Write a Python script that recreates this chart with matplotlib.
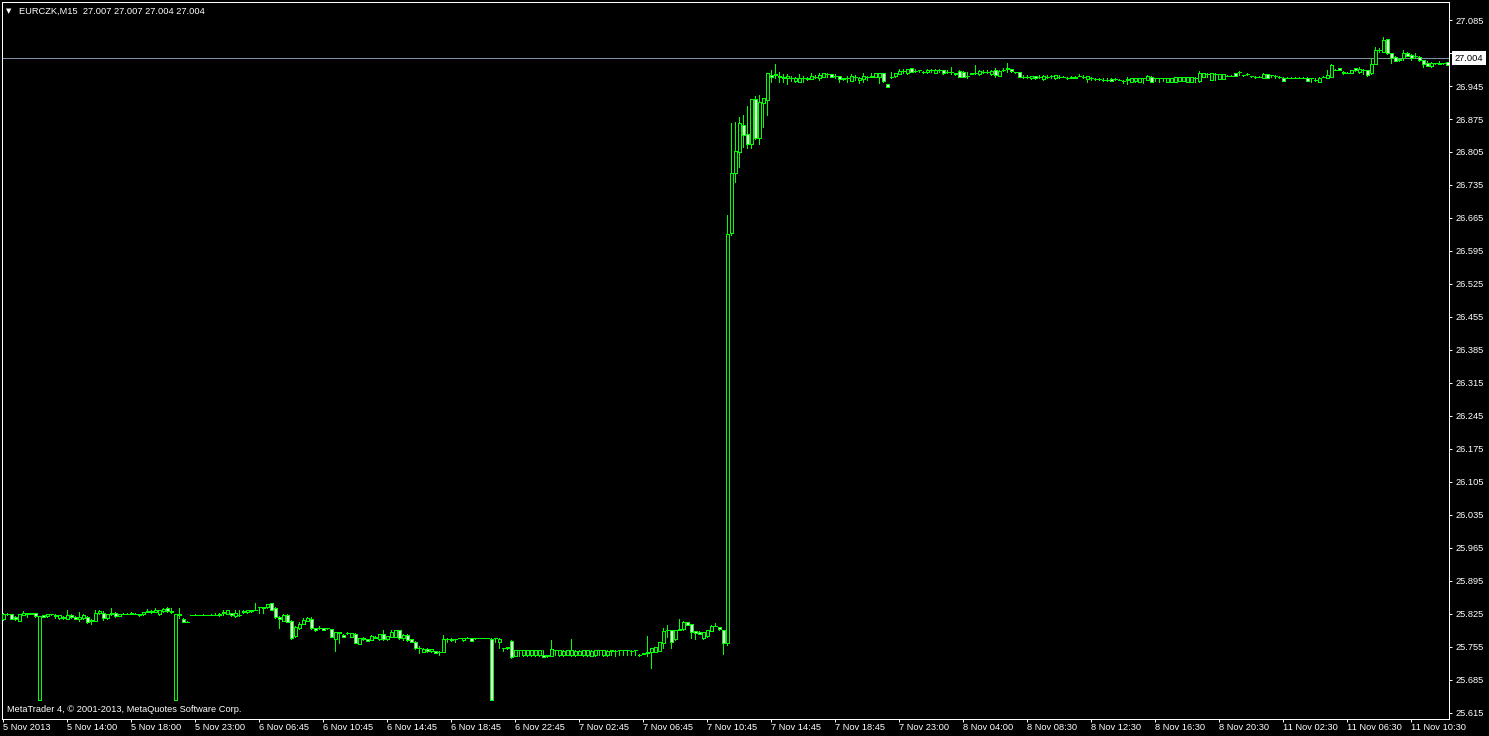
import matplotlib
matplotlib.use('Agg')
import matplotlib.pyplot as plt
import matplotlib.transforms as mtransforms
import numpy as np

plt.rcParams['font.family'] = ['Liberation Sans', 'DejaVu Sans']

# chart header / current quote
symbol = 'EURCZK,M15'
last_ohlc = ['27.007', '27.007', '27.004', '27.004']
bid = 27.004
copyright_txt = 'MetaTrader 4, \u00a9 2001-2013, MetaQuotes Software Corp.'

# time axis labels, one every 16 bars
time_labels = ['5 Nov 2013', '5 Nov 14:00', '5 Nov 18:00', '5 Nov 23:00', '6 Nov 06:45',
               '6 Nov 10:45', '6 Nov 14:45', '6 Nov 18:45', '6 Nov 22:45', '7 Nov 02:45',
               '7 Nov 06:45', '7 Nov 10:45', '7 Nov 14:45', '7 Nov 18:45', '7 Nov 23:00',
               '8 Nov 04:00', '8 Nov 08:30', '8 Nov 12:30', '8 Nov 16:30', '8 Nov 20:30',
               '11 Nov 02:30', '11 Nov 06:30', '11 Nov 10:30']

# M15 bars, prices in thousandths of CZK
opens = [
    25815, 25826, 25825, 25819, 25811, 25823, 25827, 25826, 25827, 25643,  # 0
    25822, 25820, 25824, 25823, 25816, 25819, 25815, 25823, 25819, 25815,
    25816, 25819, 25811, 25811, 25827, 25827, 25816, 25824, 25827, 25821,
    25825, 25826, 25826, 25826, 25825, 25824, 25830, 25832, 25830, 25826,
    25832, 25838, 25831, 25643, 25824, 25815, 25809, 25823, 25823, 25823,
    25823, 25823, 25823, 25823, 25822, 25828, 25826, 25827, 25820, 25823,  # 50
    25829, 25829, 25834, 25834, 25839, 25839, 25839, 25848, 25838, 25819,
    25811, 25823, 25810, 25779, 25795, 25804, 25811, 25815, 25795, 25795,
    25795, 25795, 25793, 25771, 25786, 25781, 25784, 25777, 25783, 25762,
    25775, 25771, 25770, 25774, 25771, 25782, 25771, 25777, 25777, 25790,
    25774, 25781, 25771, 25766, 25752, 25745, 25751, 25746, 25746, 25744,  # 100
    25745, 25772, 25772, 25771, 25773, 25769, 25774, 25774, 25774, 25774,
    25774, 25774, 25772, 25774, 25765, 25752, 25754, 25768, 25736, 25748,
    25737, 25737, 25737, 25737, 25737, 25738, 25738, 25736, 25748, 25737,
    25737, 25738, 25737, 25737, 25738, 25737, 25737, 25736, 25737, 25748,
    25737, 25737, 25748, 25747, 25748, 25748, 25748, 25747, 25748, 25738,  # 150
    25741, 25743, 25744, 25745, 25747, 25764, 25791, 25791, 25771, 25792,
    25793, 25807, 25803, 25788, 25787, 25773, 25778, 25789, 25800, 25797,
    25791, 25764, 26633, 26760, 26806, 26862, 26843, 26822, 26917, 26834,
    26910, 26915, 26968, 26969, 26966, 26964, 26963, 26963, 26956, 26954,
    26963, 26963, 26960, 26965, 26963, 26965, 26970, 26970, 26966, 26966,  # 200
    26962, 26962, 26956, 26965, 26958, 26960, 26965, 26965, 26965, 26965,
    26972, 26949, 26965, 26966, 26971, 26977, 26972, 26983, 26976, 26979,
    26975, 26974, 26980, 26973, 26980, 26979, 26975, 26975, 26970, 26977,
    26975, 26967, 26971, 26972, 26970, 26974, 26974, 26970, 26979, 26967,
    26979, 26982, 26981, 26974, 26974, 26965, 26965, 26961, 26966, 26965,  # 250
    26960, 26965, 26967, 26961, 26965, 26965, 26963, 26965, 26965, 26967,
    26965, 26959, 26961, 26960, 26960, 26958, 26958, 26960, 26960, 26958,
    26956, 26957, 26954, 26955, 26954, 26961, 26958, 26965, 26961, 26961,
    26961, 26954, 26954, 26954, 26956, 26956, 26954, 26954, 26963, 26955,
    26965, 26970, 26958, 26971, 26960, 26960, 26967, 26967, 26972, 26974,  # 300
    26968, 26970, 26966, 26965, 26965, 26963, 26970, 26968, 26967, 26965,
    26961, 26963, 26963, 26963, 26963, 26963, 26963, 26961, 26958, 26954,
    26965, 26963, 26965, 26980, 26983, 26975, 26973, 26973, 26983, 26974,
    26979, 26979, 26972, 26992, 27021, 27018, 27044, 27015, 27007, 27002,
    27005, 27016, 27011, 27008, 27007, 27000, 26993, 26987, 26993, 26992,  # 350
    26993, 26995,
]
highs = [
    25828, 25828, 25826, 25820, 25826, 25831, 25828, 25827, 25828, 25821,
    25823, 25825, 25826, 25826, 25823, 25820, 25834, 25824, 25820, 25829,
    25824, 25820, 25815, 25834, 25834, 25832, 25826, 25838, 25829, 25826,
    25827, 25827, 25829, 25827, 25826, 25830, 25836, 25834, 25838, 25834,
    25837, 25839, 25838, 25826, 25838, 25816, 25810, 25823, 25824, 25823,
    25824, 25823, 25824, 25827, 25827, 25834, 25834, 25828, 25834, 25834,
    25833, 25834, 25834, 25848, 25840, 25840, 25847, 25849, 25839, 25820,
    25824, 25824, 25812, 25800, 25808, 25817, 25819, 25818, 25796, 25799,
    25796, 25796, 25794, 25787, 25787, 25782, 25786, 25785, 25785, 25775,
    25776, 25772, 25780, 25779, 25783, 25791, 25779, 25792, 25792, 25791,
    25782, 25782, 25772, 25767, 25756, 25752, 25752, 25751, 25747, 25746,
    25781, 25773, 25773, 25772, 25775, 25775, 25776, 25775, 25775, 25774,
    25775, 25774, 25773, 25775, 25773, 25753, 25755, 25769, 25749, 25749,
    25749, 25749, 25749, 25749, 25749, 25749, 25739, 25769, 25749, 25749,
    25749, 25749, 25771, 25749, 25748, 25749, 25749, 25748, 25749, 25749,
    25749, 25749, 25749, 25748, 25749, 25749, 25749, 25748, 25749, 25741,
    25743, 25778, 25753, 25755, 25766, 25796, 25802, 25792, 25792, 25814,
    25810, 25808, 25804, 25789, 25788, 25787, 25792, 25801, 25805, 25798,
    25792, 26671, 26867, 26869, 26880, 26884, 26903, 26918, 26924, 26926,
    26920, 26973, 26979, 26992, 26975, 26970, 26970, 26967, 26964, 26970,
    26966, 26964, 26972, 26968, 26972, 26973, 26972, 26971, 26971, 26967,
    26963, 26966, 26970, 26968, 26964, 26972, 26966, 26972, 26973, 26973,
    26973, 26950, 26975, 26973, 26981, 26981, 26982, 26984, 26981, 26980,
    26976, 26981, 26981, 26981, 26981, 26980, 26979, 26986, 26973, 26978,
    26976, 26975, 26973, 26990, 26978, 26979, 26979, 26978, 26983, 26978,
    26983, 26993, 26982, 26975, 26975, 26968, 26968, 26967, 26967, 26968,
    26968, 26968, 26968, 26969, 26968, 26966, 26964, 26966, 26966, 26970,
    26968, 26967, 26965, 26963, 26963, 26961, 26961, 26961, 26963, 26959,
    26958, 26965, 26962, 26963, 26963, 26962, 26968, 26966, 26962, 26962,
    26962, 26963, 26963, 26965, 26965, 26965, 26965, 26965, 26964, 26977,
    26973, 26972, 26973, 26972, 26971, 26971, 26968, 26968, 26973, 26977,
    26969, 26972, 26967, 26966, 26966, 26972, 26971, 26969, 26968, 26966,
    26965, 26964, 26964, 26964, 26964, 26964, 26964, 26962, 26961, 26964,
    26966, 26980, 26991, 26981, 26984, 26976, 26974, 26980, 26984, 26986,
    26981, 26980, 27004, 27028, 27025, 27048, 27045, 27016, 27008, 27004,
    27021, 27017, 27012, 27014, 27008, 27001, 26997, 26995, 26994, 26997,
    26994, 26996,
]
lows = [
    25813, 25822, 25814, 25813, 25810, 25822, 25818, 25826, 25818, 25643,
    25818, 25819, 25823, 25817, 25815, 25815, 25814, 25817, 25814, 25811,
    25815, 25806, 25804, 25810, 25826, 25813, 25815, 25822, 25819, 25820,
    25824, 25824, 25826, 25824, 25821, 25823, 25829, 25828, 25829, 25822,
    25830, 25830, 25828, 25643, 25816, 25807, 25808, 25823, 25823, 25822,
    25823, 25823, 25822, 25822, 25821, 25823, 25825, 25821, 25819, 25820,
    25828, 25828, 25830, 25833, 25827, 25827, 25838, 25833, 25817, 25796,
    25810, 25808, 25771, 25777, 25794, 25803, 25810, 25794, 25789, 25794,
    25790, 25794, 25776, 25747, 25764, 25776, 25783, 25776, 25763, 25761,
    25770, 25767, 25769, 25773, 25770, 25770, 25770, 25776, 25776, 25772,
    25770, 25768, 25765, 25751, 25743, 25744, 25744, 25744, 25742, 25737,
    25744, 25766, 25768, 25765, 25773, 25768, 25773, 25767, 25772, 25774,
    25774, 25773, 25643, 25765, 25752, 25747, 25751, 25732, 25735, 25736,
    25736, 25736, 25736, 25736, 25736, 25733, 25734, 25735, 25738, 25736,
    25736, 25737, 25736, 25736, 25737, 25736, 25736, 25735, 25736, 25737,
    25736, 25736, 25737, 25736, 25737, 25737, 25738, 25737, 25738, 25735,
    25740, 25735, 25711, 25744, 25746, 25752, 25777, 25752, 25770, 25791,
    25792, 25801, 25773, 25772, 25782, 25772, 25777, 25788, 25799, 25792,
    25740, 25760, 26629, 26742, 26774, 26816, 26813, 26813, 26833, 26822,
    26859, 26884, 26954, 26961, 26954, 26954, 26949, 26956, 26954, 26953,
    26954, 26958, 26959, 26962, 26958, 26964, 26965, 26964, 26963, 26954,
    26958, 26954, 26955, 26958, 26952, 26954, 26958, 26964, 26964, 26951,
    26953, 26942, 26963, 26965, 26970, 26972, 26971, 26974, 26975, 26974,
    26973, 26973, 26974, 26972, 26975, 26971, 26972, 26970, 26969, 26964,
    26964, 26963, 26970, 26971, 26969, 26973, 26973, 26969, 26965, 26966,
    26977, 26974, 26975, 26973, 26964, 26962, 26962, 26960, 26960, 26962,
    26958, 26962, 26963, 26960, 26962, 26964, 26960, 26961, 26961, 26966,
    26962, 26954, 26958, 26958, 26957, 26956, 26956, 26955, 26957, 26957,
    26951, 26949, 26953, 26954, 26953, 26951, 26957, 26953, 26956, 26954,
    26956, 26953, 26953, 26953, 26955, 26955, 26953, 26953, 26954, 26954,
    26964, 26965, 26957, 26958, 26959, 26959, 26966, 26966, 26966, 26968,
    26967, 26969, 26965, 26962, 26964, 26962, 26962, 26965, 26963, 26963,
    26955, 26962, 26962, 26962, 26962, 26962, 26955, 26954, 26956, 26953,
    26964, 26962, 26964, 26979, 26978, 26971, 26972, 26972, 26977, 26972,
    26970, 26967, 26971, 26991, 27018, 27017, 27013, 26994, 26998, 26999,
    27000, 27008, 27000, 27004, 26997, 26985, 26987, 26986, 26992, 26991,
    26992, 26989,
]
closes = [
    25826, 25824, 25815, 25814, 25825, 25827, 25826, 25827, 25820, 25820,
    25819, 25824, 25824, 25820, 25822, 25816, 25823, 25818, 25815, 25818,
    25822, 25809, 25813, 25827, 25831, 25816, 25825, 25827, 25820, 25825,
    25826, 25825, 25827, 25825, 25822, 25829, 25832, 25829, 25834, 25833,
    25836, 25831, 25829, 25825, 25822, 25808, 25809, 25823, 25823, 25823,
    25823, 25823, 25823, 25823, 25826, 25829, 25833, 25822, 25827, 25823,
    25832, 25833, 25831, 25834, 25839, 25838, 25846, 25834, 25819, 25815,
    25823, 25809, 25774, 25798, 25803, 25812, 25817, 25795, 25790, 25795,
    25791, 25795, 25777, 25786, 25785, 25777, 25784, 25784, 25764, 25774,
    25771, 25768, 25779, 25777, 25782, 25771, 25778, 25786, 25791, 25774,
    25781, 25769, 25766, 25752, 25752, 25751, 25746, 25750, 25743, 25745,
    25772, 25772, 25769, 25771, 25774, 25774, 25774, 25768, 25774, 25774,
    25774, 25774, 25643, 25774, 25772, 25752, 25752, 25733, 25748, 25748,
    25748, 25748, 25748, 25748, 25748, 25734, 25735, 25750, 25748, 25748,
    25747, 25748, 25748, 25747, 25747, 25748, 25748, 25747, 25748, 25748,
    25748, 25747, 25747, 25747, 25748, 25748, 25748, 25746, 25748, 25738,
    25742, 25744, 25752, 25754, 25765, 25789, 25791, 25765, 25791, 25793,
    25809, 25802, 25786, 25784, 25783, 25786, 25791, 25800, 25800, 25793,
    25763, 26630, 26760, 26807, 26866, 26841, 26822, 26917, 26834, 26912,
    26919, 26972, 26965, 26970, 26964, 26963, 26966, 26962, 26963, 26963,
    26963, 26959, 26966, 26965, 26968, 26972, 26970, 26965, 26967, 26959,
    26959, 26962, 26966, 26965, 26963, 26966, 26965, 26966, 26972, 26972,
    26956, 26943, 26965, 26972, 26977, 26977, 26981, 26975, 26977, 26979,
    26974, 26980, 26980, 26980, 26980, 26972, 26975, 26975, 26972, 26965,
    26965, 26967, 26972, 26972, 26977, 26974, 26974, 26977, 26968, 26977,
    26979, 26983, 26976, 26974, 26965, 26965, 26965, 26966, 26961, 26965,
    26966, 26965, 26967, 26968, 26965, 26965, 26963, 26962, 26962, 26967,
    26965, 26966, 26961, 26960, 26960, 26958, 26958, 26956, 26960, 26958,
    26956, 26960, 26961, 26963, 26962, 26961, 26967, 26954, 26961, 26961,
    26961, 26962, 26962, 26965, 26964, 26964, 26964, 26964, 26963, 26972,
    26972, 26970, 26972, 26971, 26970, 26970, 26967, 26967, 26967, 26974,
    26968, 26970, 26966, 26965, 26965, 26970, 26963, 26968, 26967, 26965,
    26956, 26963, 26963, 26963, 26963, 26963, 26956, 26961, 26958, 26963,
    26965, 26968, 26990, 26980, 26979, 26972, 26973, 26979, 26978, 26981,
    26980, 26968, 26992, 27021, 27021, 27043, 27014, 27004, 26999, 27000,
    27016, 27009, 27004, 27008, 27000, 26992, 26988, 26994, 26993, 26993,
    26993, 26990,
]

assert len(opens) == len(highs) == len(lows) == len(closes)

o = np.array(opens) / 1000
h = np.array(highs) / 1000
l = np.array(lows) / 1000
c = np.array(closes) / 1000
x = np.arange(len(o))

lime = '#00ff00'
px = 72 / 100  # one screen pixel in points

fig = plt.figure(figsize=(14.89, 7.36), dpi=100, facecolor='black')
ax = fig.add_axes([2 / 1489, 17 / 736, 1447 / 1489, 717 / 736])
ax.set_facecolor('black')

# candles: wicks, then bodies (bear = white fill, bull = black fill)
ax.vlines(x, l, h, color=lime, lw=px, antialiased=False, zorder=2)
fills = ['white' if cc < oo else 'black' for oo, cc in zip(o, c)]
ax.bar(x, np.abs(c - o), bottom=np.minimum(o, c), width=0.62, color=fills,
       edgecolor=lime, linewidth=px, antialiased=False, zorder=3)

# bid line
ax.axhline(bid, color='#7f8fa6', lw=px, zorder=1)

ax.set_xlim(-0.325, 361.4)
ax.set_ylim(25.6022, 27.1232)

for sp in ax.spines.values():
    sp.set_color('white')
    sp.set_linewidth(px)

# price scale on the right
yt = [25.615 + 0.07 * k for k in range(22)]
ax.yaxis.tick_right()
ax.set_yticks(yt)
ax.set_yticklabels([f'{v:.3f}' for v in yt])
ax.tick_params(axis='y', colors='white', length=3 * px, width=px,
               labelsize=6.7, pad=2.2)

# time scale
ax.set_xticks(x[::16])
ax.set_xticklabels(time_labels, ha='left')
ax.tick_params(axis='x', colors='white', length=3 * px, width=px,
               labelsize=6.7, pad=1)

# header and footer texts
fig.text(6 / 1489, 1 - 11 / 736, '\u25bc', color='white', fontsize=5,
         va='center', family='DejaVu Sans')
fig.text(19 / 1489, 1 - 11 / 736, symbol + '  ' + ' '.join(last_ohlc),
         color='white', fontsize=6.7, va='center')
fig.text(7 / 1489, 1 - 710 / 736, copyright_txt, color='white',
         fontsize=6.7, va='center')

# current price tag on the scale
trans = mtransforms.blended_transform_factory(fig.transFigure, ax.transData)
ax.text(1455 / 1489, bid, f'{bid:.3f}', transform=trans, color='black',
        fontsize=6.7, va='center', ha='left', clip_on=False, zorder=10,
        bbox=dict(boxstyle='square,pad=0.3', fc='white', ec='none'))

fig.savefig('out.png', dpi=100, facecolor='black')
